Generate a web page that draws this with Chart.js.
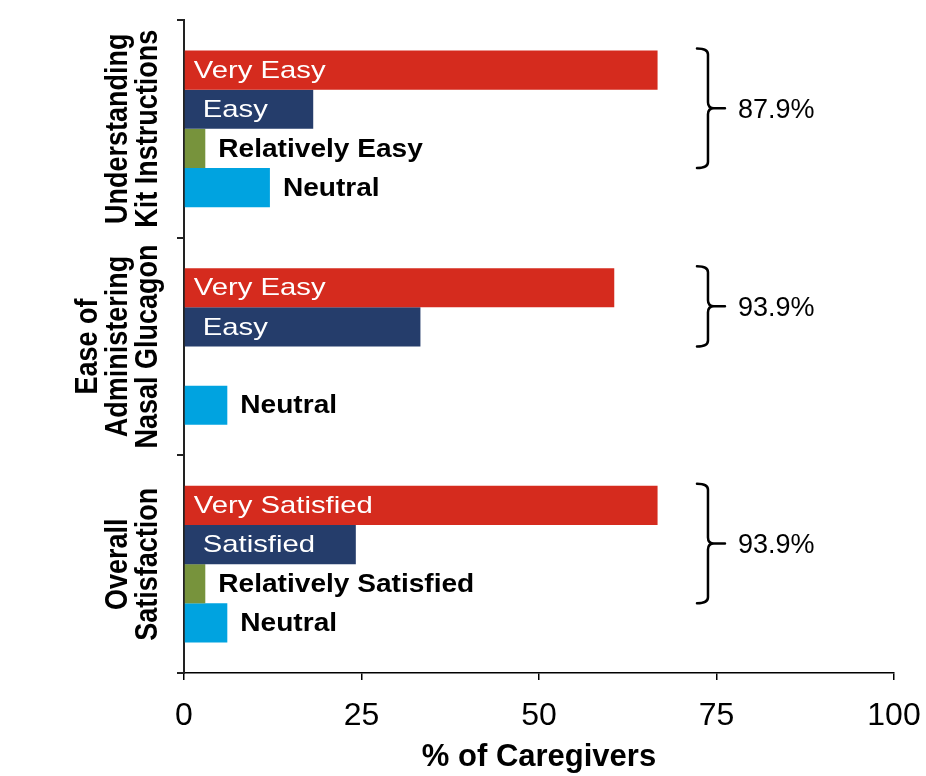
<!DOCTYPE html>
<html>
<head>
<meta charset="utf-8">
<script src="https://cdn.jsdelivr.net/npm/chart.js@4/dist/chart.umd.min.js"></script>
<style>
  html, body { margin: 0; padding: 0; background: #fff; }
  #wrap { width: 926px; height: 776px; }
</style>
</head>
<body>
<div id="wrap"><canvas id="c" width="926" height="776"></canvas></div>
<script>
// Survey groups (one row block each) and the rating shown on each bar
const groupNames = [
  ['Understanding', 'Kit Instructions'],
  ['Ease of', 'Administering', 'Nasal Glucagon'],
  ['Overall', 'Satisfaction']
];
const ratingNames = [
  ['Very Easy', 'Easy', 'Relatively Easy', 'Neutral'],
  ['Very Easy', 'Easy', 'Relatively Easy', 'Neutral'],
  ['Very Satisfied', 'Satisfied', 'Relatively Satisfied', 'Neutral']
];

// % of caregivers per rating, one array per rating level
const veryValues       = [66.7, 60.6, 66.7];
const secondValues     = [18.2, 33.3, 24.2];
const relativelyValues = [3.0, null, 3.0];
const neutralValues    = [12.1, 6.1, 6.1];

const xTickValues = [0, 25, 50, 75, 100];

const seriesColors = ['#D52B1E', '#253D6B', '#77933C', '#00A3E0'];
const BRACE_AT = 73.8;        // x value where the bracket spine sits
const FONT = '"Liberation Sans", Arial, sans-serif';

function stretchedText(ctx, text, x, y, sx) {
  ctx.save();
  ctx.translate(x, y);
  ctx.scale(sx, 1);
  ctx.fillText(text, 0, 0);
  ctx.restore();
}

// Rating names on/next to each bar
const barLabels = {
  id: 'barLabels',
  afterDatasetsDraw(chart) {
    const ctx = chart.ctx;
    const insets = [9, 18];
    ctx.save();
    ctx.textBaseline = 'middle';
    ctx.textAlign = 'left';
    chart.data.datasets.forEach((ds, d) => {
      const meta = chart.getDatasetMeta(d);
      meta.data.forEach((bar, g) => {
        if (ds.data[g] == null) return;
        const text = ratingNames[g][d];
        if (d < 2) {
          ctx.fillStyle = '#fff';
          ctx.font = '24px ' + FONT;
          stretchedText(ctx, text, bar.base + insets[d], bar.y + 1, 1.22);
        } else {
          ctx.fillStyle = '#000';
          ctx.font = 'bold 26px ' + FONT;
          stretchedText(ctx, text, bar.x + 13, bar.y + 1, 1.08);
        }
      });
    });
    ctx.restore();
  }
};

// Curly brackets with the combined positive share
const braces = {
  id: 'braces',
  afterDatasetsDraw(chart) {
    const ctx = chart.ctx;
    const xs = chart.scales.x;
    const xV = xs.getPixelForValue(BRACE_AT);
    const hook = 11, r = 6, tip = 17;
    groupNames.forEach((_, g) => {
      let top = Infinity, bottom = -Infinity, total = 0;
      for (let d = 0; d < 3; d++) {
        const v = chart.data.datasets[d].data[g];
        if (v == null) continue;
        const bar = chart.getDatasetMeta(d).data[g];
        top = Math.min(top, bar.y - bar.height / 2);
        bottom = Math.max(bottom, bar.y + bar.height / 2);
        total += v;
      }
      top -= 2;
      const mid = (top + bottom) / 2;
      ctx.save();
      ctx.strokeStyle = '#000';
      ctx.lineWidth = 2.5;
      ctx.lineCap = 'round';
      ctx.beginPath();
      ctx.moveTo(xV - hook, top);
      ctx.quadraticCurveTo(xV, top, xV, top + r);
      ctx.lineTo(xV, mid - r);
      ctx.quadraticCurveTo(xV, mid, xV + r, mid);
      ctx.lineTo(xV + tip, mid);
      ctx.moveTo(xV + r, mid);
      ctx.quadraticCurveTo(xV, mid, xV, mid + r);
      ctx.lineTo(xV, bottom - r);
      ctx.quadraticCurveTo(xV, bottom, xV - hook, bottom);
      ctx.stroke();
      ctx.fillStyle = '#000';
      ctx.font = '27px ' + FONT;
      ctx.textAlign = 'left';
      ctx.textBaseline = 'middle';
      ctx.fillText(total.toFixed(1) + '%', xV + tip + 13, mid + 2);
      ctx.restore();
    });
  }
};

// Rotated group names left of the category axis
const groupTitles = {
  id: 'groupTitles',
  afterDraw(chart) {
    const ctx = chart.ctx;
    const ys = chart.scales.y;
    const left = chart.chartArea.left;
    ctx.save();
    ctx.fillStyle = '#000';
    ctx.font = 'bold 27px ' + FONT;
    ctx.textAlign = 'center';
    ctx.textBaseline = 'alphabetic';
    groupNames.forEach((lines, g) => {
      const yC = ys.getPixelForValue(g);
      const n = lines.length;
      lines.forEach((line, i) => {
        const baseX = left - 27 - 30 * (n - 1 - i);
        ctx.save();
        ctx.translate(baseX, yC);
        ctx.rotate(-Math.PI / 2);
        ctx.scale(1, 1.15);
        ctx.fillText(line, 0, 0);
        ctx.restore();
      });
    });
    ctx.restore();
  }
};

new Chart(document.getElementById('c'), {
  type: 'bar',
  data: {
    labels: groupNames.map(l => l.join(' ')),
    datasets: [
      { label: 'Very', data: veryValues, backgroundColor: seriesColors[0] },
      { label: 'Second', data: secondValues, backgroundColor: seriesColors[1] },
      { label: 'Relatively', data: relativelyValues, backgroundColor: seriesColors[2] },
      { label: 'Neutral', data: neutralValues, backgroundColor: seriesColors[3] }
    ]
  },
  options: {
    indexAxis: 'y',
    responsive: false,
    animation: false,
    devicePixelRatio: 1,
    layout: { padding: { top: 20, right: 32, left: 0, bottom: 0 } },
    datasets: { bar: { categoryPercentage: 0.72, barPercentage: 1.0, borderWidth: 0 } },
    plugins: { legend: { display: false }, tooltip: { enabled: false } },
    scales: {
      x: {
        type: 'linear',
        position: 'bottom',
        min: 0, max: 100,
        afterBuildTicks: s => { s.ticks = xTickValues.map(v => ({ value: v })); },
        afterFit: s => { s.height = 103; s.paddingLeft = 0; s.paddingRight = 0; },
        ticks: { color: '#000', padding: 17, font: { family: FONT, size: 32 } },
        grid: { drawOnChartArea: false, drawTicks: true, tickLength: 7, color: '#000', lineWidth: 1.5 },
        border: { color: '#000', width: 1.5 },
        title: {
          display: true, text: '% of Caregivers', color: '#000',
          font: { family: FONT, size: 31, weight: 'bold' },
          padding: { top: 0, bottom: 0 }
        }
      },
      y: {
        type: 'category',
        offset: true,
        afterFit: s => { s.width = 184; },
        ticks: { display: false },
        grid: { offset: true, drawOnChartArea: false, drawTicks: true, tickLength: 7, color: '#222', lineWidth: 2 },
        border: { color: '#222', width: 2 }
      }
    }
  },
  plugins: [barLabels, braces, groupTitles]
});
</script>
</body>
</html>
